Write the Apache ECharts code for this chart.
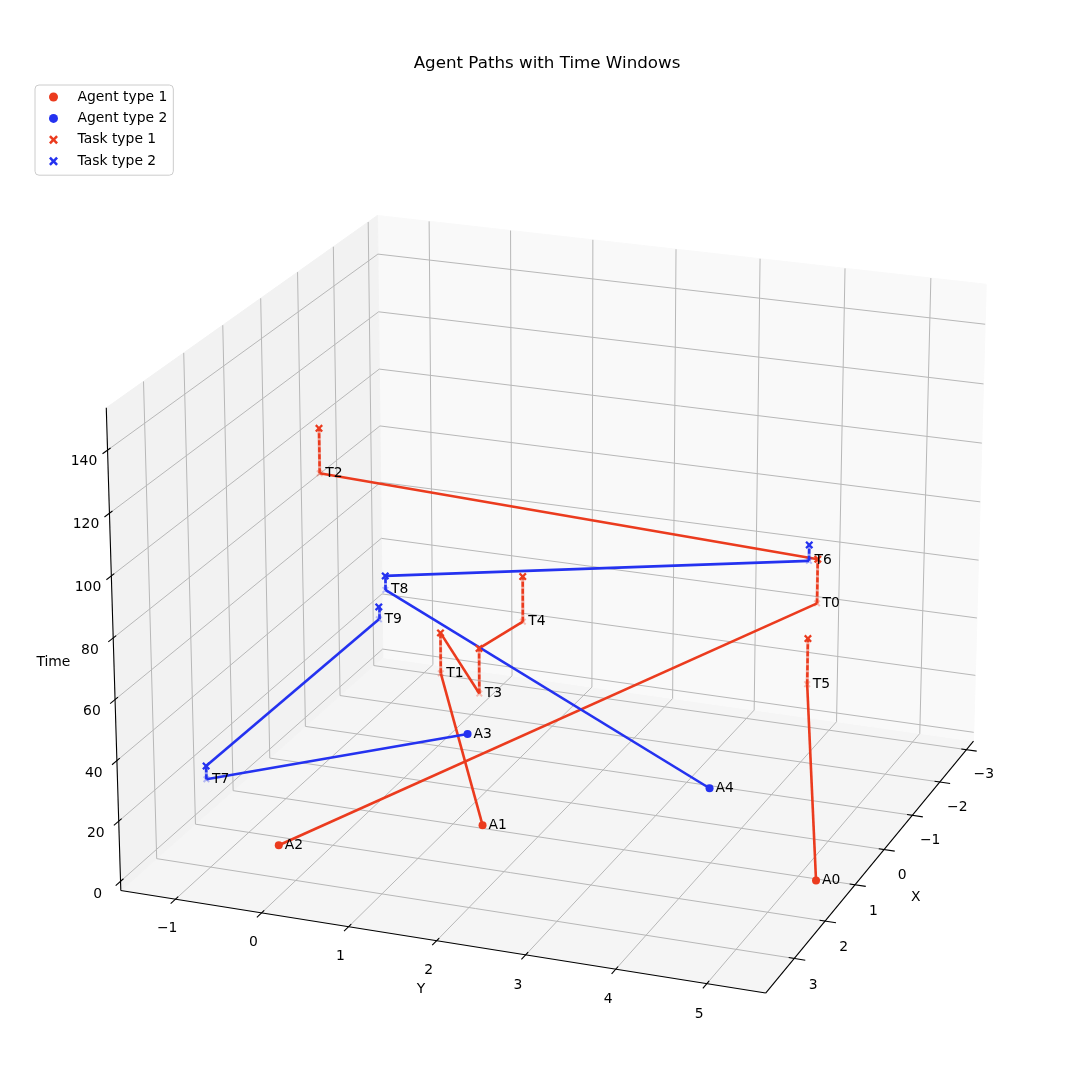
<!DOCTYPE html>
<html><head><meta charset="utf-8">
<script src="https://cdn.jsdelivr.net/npm/echarts/dist/echarts.min.js"></script>
<style>html,body{margin:0;padding:0;background:#fff}#c{width:1065px;height:1087px}</style>
</head><body><div id="c"></div>
<script>
// ---- data ----
const agentNames=['A0','A1','A2','A3','A4'];
const agentType=[1,1,1,2,2];
const agentX=[1.27,1.15,2.43,-1.20,-0.69];
const agentY=[5.29,1.41,-0.45,0.28,3.38];
const taskNames=['T0','T1','T2','T3','T4','T5','T6','T7','T8','T9'];
const taskType=[1,1,1,1,1,1,2,2,2,2];
const taskX=[-0.59,0.06,3.35,2.06,1.38,0.27,-0.71,2.01,0.49,1.66];
const taskY=[4.63,0.48,0.51,1.75,1.98,4.82,4.49,-1.49,0.01,0.43];
const taskStart=[69.0,35.7,135.2,55.8,73.1,52.0,81.4,13.0,66.7,70.7];
const taskEnd=[83.7,49.5,149.3,70.6,87.9,67.1,86.7,17.5,71.4,74.8];
const agentRoutes=[[5],[1,3,4],[0,2],[7,9],[8,6]];
const xTicks=[-3,-2,-1,0,1,2,3];
const yTicks=[-1,0,1,2,3,4,5];
const tTicks=[0,20,40,60,80,100,120,140];
// ---- camera (perspective view of the 3D box) ----
const CAM={el:20.701,az:20.902,k:1.0414,kz:0.9979,dist:10,s:5631.7,cx:560.65,cy:582.46};
const XR=[-3.27,3.9],YR=[-1.64,5.64],TR=[-3.1,153.3];
const D2R=Math.PI/180;
function dot(a,b){return a[0]*b[0]+a[1]*b[1]+a[2]*b[2];}
const e=CAM.el*D2R,a=CAM.az*D2R;
const W=[Math.cos(e)*Math.cos(a),Math.cos(e)*Math.sin(a),Math.sin(e)],U=[-Math.sin(a),Math.cos(a),0],V=[-Math.sin(e)*Math.cos(a),-Math.sin(e)*Math.sin(a),Math.cos(e)];
const HX=0.5714*CAM.k,HY=HX,HZ=0.4286*CAM.k*CAM.kz;
const mid=r=>(r[0]+r[1])/2,rg=r=>r[1]-r[0];
function toW(X,Y,T){return[(X-mid(XR))/rg(XR)*2*HX,(Y-mid(YR))/rg(YR)*2*HY,(T-mid(TR))/rg(TR)*2*HZ];}
function pr(X,Y,T){const p=toW(X,Y,T);const d=CAM.dist-dot(p,W);return[dot(p,U)/d,dot(p,V)/d];}
// ---- styles ----
const RED='#eb3b1e',BLUE='#2432f0';
const RED_L='rgba(235,59,30,0.3)',BLUE_L='rgba(36,50,240,0.3)';
const XPATH='path://M2,0L5,3L8,0L10,2L7,5L10,8L8,10L5,7L2,10L0,8L3,5L0,2Z';
const FONT='"DejaVu Sans", sans-serif';
const dX=rg(XR)/12,dY=rg(YR)/12,dT=rg(TR)/12;
// ---- frame geometry ----
const panes=[
 {c:[[XR[0],YR[0],TR[0]],[XR[1],YR[0],TR[0]],[XR[1],YR[1],TR[0]],[XR[0],YR[1],TR[0]]],f:'#f5f5f5'},
 {c:[[XR[0],YR[0],TR[0]],[XR[0],YR[1],TR[0]],[XR[0],YR[1],TR[1]],[XR[0],YR[0],TR[1]]],f:'#f9f9f9'},
 {c:[[XR[0],YR[0],TR[0]],[XR[1],YR[0],TR[0]],[XR[1],YR[0],TR[1]],[XR[0],YR[0],TR[1]]],f:'#f2f2f2'}];
const gridSeg=[];
xTicks.forEach(x=>{gridSeg.push([pr(x,YR[0],TR[0]),pr(x,YR[1],TR[0])]);gridSeg.push([pr(x,YR[0],TR[0]),pr(x,YR[0],TR[1])]);});
yTicks.forEach(y=>{gridSeg.push([pr(XR[0],y,TR[0]),pr(XR[1],y,TR[0])]);gridSeg.push([pr(XR[0],y,TR[0]),pr(XR[0],y,TR[1])]);});
tTicks.forEach(t=>{gridSeg.push([pr(XR[0],YR[0],t),pr(XR[0],YR[1],t)]);gridSeg.push([pr(XR[0],YR[0],t),pr(XR[1],YR[0],t)]);});
const axisSeg=[[pr(XR[1],YR[0],TR[0]),pr(XR[1],YR[1],TR[0])],[pr(XR[1],YR[1],TR[0]),pr(XR[0],YR[1],TR[0])],[pr(XR[1],YR[0],TR[0]),pr(XR[1],YR[0],TR[1])]];
xTicks.forEach(x=>axisSeg.push([pr(x,YR[1]+0.2*dY,TR[0]),pr(x,YR[1]-0.1*dY,TR[0])]));
yTicks.forEach(y=>axisSeg.push([pr(XR[1]+0.2*dX,y,TR[0]),pr(XR[1]-0.12*dX,y,TR[0])]));
tTicks.forEach(t=>axisSeg.push([pr(XR[1]+0.2*dX,YR[0],t),pr(XR[1]-0.12*dX,YR[0],t)]));
const fmt=v=>String(v).replace('-','\u2212');
const texts=[];
xTicks.forEach(x=>texts.push({q:pr(x,YR[1]+0.35*dY,TR[0]-0.6*dT),t:fmt(x)}));
yTicks.forEach(y=>texts.push({q:pr(XR[1]+0.37*dX,y,TR[0]-0.55*dT),t:fmt(y)}));
tTicks.forEach(t=>texts.push({q:pr(XR[1]+0.58*dX,YR[0]-0.17*dY,t-0.6),t:fmt(t)}));
texts.push({q:pr(mid(XR),YR[1]+0.47,TR[0]-10.5),t:'X'});
texts.push({q:pr(XR[1]+0.67,mid(YR)+0.1,TR[0]-7.3),t:'Y'});
texts.push({q:pr(XR[1]+0.53,YR[0]-0.44,mid(TR)+1),t:'Time'});
// ---- data geometry ----
const pathSeg={1:[],2:[]};
agentRoutes.forEach((r,i)=>{let prev=pr(agentX[i],agentY[i],0);r.forEach(ti=>{pathSeg[agentType[i]].push([prev,pr(taskX[ti],taskY[ti],taskStart[ti])]);prev=pr(taskX[ti],taskY[ti],taskEnd[ti]);});});
const winSeg={1:[],2:[]};
taskNames.forEach((n,i)=>winSeg[taskType[i]].push([pr(taskX[i],taskY[i],taskStart[i]),pr(taskX[i],taskY[i],taskEnd[i])]));
const agentPts=t=>agentNames.map((n,i)=>agentType[i]===t?{value:pr(agentX[i],agentY[i],0),name:n}:null).filter(Boolean);
const taskTop=t=>taskNames.map((n,i)=>taskType[i]===t?{value:pr(taskX[i],taskY[i],taskEnd[i]),name:n}:null).filter(Boolean);
const taskBot=t=>taskNames.map((n,i)=>taskType[i]===t?{value:pr(taskX[i],taskY[i],taskStart[i]),name:n}:null).filter(Boolean);
const X0=(0-CAM.cx)/CAM.s,X1=(1065-CAM.cx)/CAM.s,Y0=(CAM.cy-1087)/CAM.s,Y1=CAM.cy/CAM.s;
const segSeries=(segs,lineStyle,z)=>({type:'lines',coordinateSystem:'cartesian2d',silent:true,z,data:segs.map(c=>({coords:c})),lineStyle:Object.assign({opacity:1},lineStyle)});
const lbl={show:true,position:'right',distance:2,formatter:'{b}',color:'#000',opacity:1,fontSize:13.9,fontFamily:FONT};
const series=[
 {type:'custom',coordinateSystem:'cartesian2d',silent:true,z:0,data:panes.map((p,i)=>[i]),renderItem:(params,api)=>{const p=panes[params.dataIndex];return{type:'polygon',shape:{points:p.c.map(c=>api.coord(pr(c[0],c[1],c[2])))},style:{fill:p.f,stroke:p.f,lineWidth:1}};}},
 segSeries(gridSeg,{color:'#b8b8b8',width:1},1),
 segSeries(axisSeg,{color:'#000',width:1.1},2),
 segSeries(pathSeg[1],{color:RED,width:2.6},3),segSeries(pathSeg[2],{color:BLUE,width:2.6},3),
 segSeries(winSeg[1],{color:RED,width:3,opacity:0.45},3),segSeries(winSeg[2],{color:BLUE,width:3,opacity:0.45},3),
 segSeries(winSeg[1],{color:RED,width:2.5,type:[5,2]},3),segSeries(winSeg[2],{color:BLUE,width:2.5,type:[5,2]},3),
 {type:'scatter',name:'Agent type 1',data:agentPts(1),symbol:'circle',symbolSize:8,itemStyle:{color:RED,opacity:1},z:4,silent:true,label:lbl},
 {type:'scatter',name:'Agent type 2',data:agentPts(2),symbol:'circle',symbolSize:8,itemStyle:{color:BLUE,opacity:1},z:4,silent:true,label:lbl},
 {type:'scatter',name:'Task type 1',data:taskTop(1),symbol:XPATH,symbolSize:8,itemStyle:{color:RED,opacity:1},z:4,silent:true},
 {type:'scatter',name:'Task type 2',data:taskTop(2),symbol:XPATH,symbolSize:8,itemStyle:{color:BLUE,opacity:1},z:4,silent:true},
 {type:'scatter',data:taskBot(1),symbol:XPATH,symbolSize:7,itemStyle:{color:RED_L,opacity:1},z:4,silent:true,label:lbl},
 {type:'scatter',data:taskBot(2),symbol:XPATH,symbolSize:7,itemStyle:{color:BLUE_L,opacity:1},z:4,silent:true,label:lbl},
 {type:'custom',coordinateSystem:'cartesian2d',silent:true,z:5,data:texts.map(t=>t.q),renderItem:(params,api)=>{const p=api.coord([api.value(0),api.value(1)]);return{type:'text',x:p[0],y:p[1],style:{text:texts[params.dataIndex].t,textAlign:'center',textVerticalAlign:'middle',align:'center',verticalAlign:'middle',fill:'#000',font:'13.9px '+FONT}};}}
];
const chart=echarts.init(document.getElementById('c'));
chart.setOption({animation:false,
 title:{text:'Agent Paths with Time Windows',left:542,top:50,textAlign:'center',textStyle:{fontSize:16.7,fontWeight:'normal',color:'#000',fontFamily:FONT}},
 legend:{orient:'vertical',left:35,top:85,padding:[5,6,7,14],itemWidth:30,itemHeight:9,itemGap:7.4,backgroundColor:'rgba(255,255,255,0.8)',borderColor:'#cccccc',borderWidth:1,borderRadius:4,
  textStyle:{fontSize:13.9,fontFamily:FONT,color:'#000',lineHeight:14,padding:[0,0,0,4]},selectedMode:false,
  data:[{name:'Agent type 1',icon:'circle'},{name:'Agent type 2',icon:'circle'},{name:'Task type 1',icon:XPATH},{name:'Task type 2',icon:XPATH}]},
 grid:{left:0,right:0,top:0,bottom:0},
 xAxis:{type:'value',min:X0,max:X1,show:false},yAxis:{type:'value',min:Y0,max:Y1,show:false},
 series});
</script></body></html>
